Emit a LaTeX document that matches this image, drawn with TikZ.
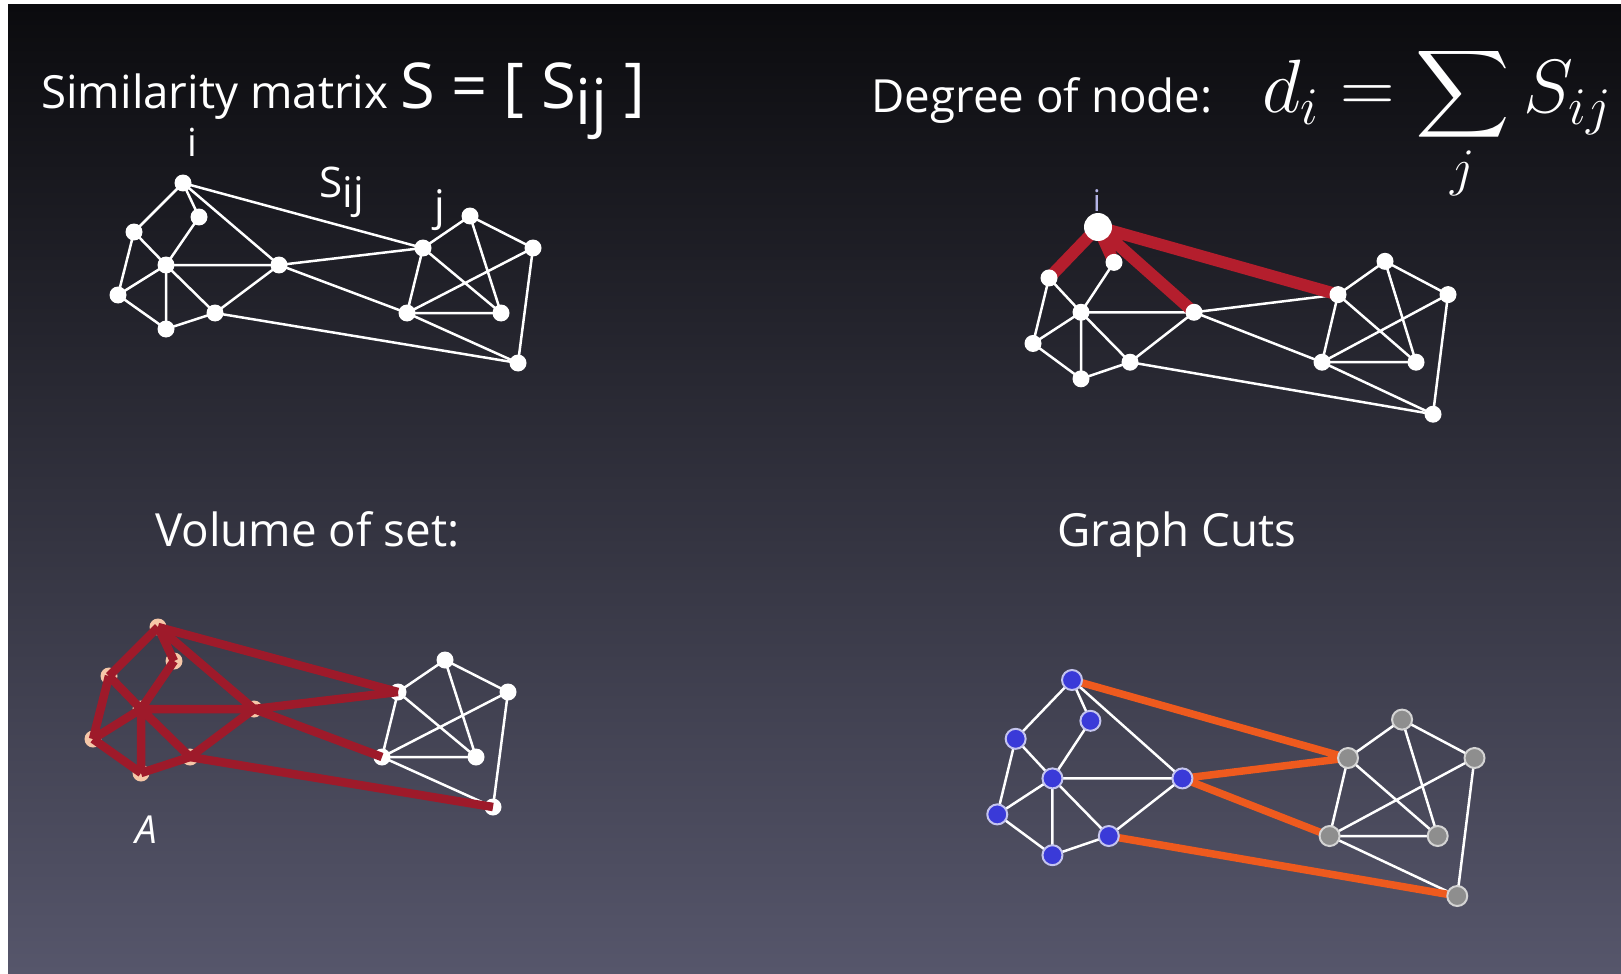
\RequirePackage{fix-cm}
\documentclass[tikz,border=0pt]{standalone}
\usepackage{exscale}
\usepackage{graphicx}
\usepackage[no-math]{fontspec}
\setmainfont{Open Sans}
\usepackage{tikz}

\pgfdeclarelayer{background}
\pgfdeclarelayer{edges}
\pgfdeclarelayer{front}
\pgfsetlayers{background,edges,main,front}

\definecolor{bgtop}{HTML}{0B0B0E}
\definecolor{bgmid}{HTML}{2E2E39}
\definecolor{bgbot}{HTML}{56566B}
\definecolor{degred}{HTML}{B41E2D}
\definecolor{volred}{HTML}{9E1A2A}
\definecolor{peach}{HTML}{F6C7A8}
\definecolor{cutorange}{HTML}{EE5A1E}
\definecolor{setblue}{HTML}{3A3AD8}
\definecolor{bluerim}{HTML}{C4C4EE}
\definecolor{setgray}{HTML}{8E8E8E}
\definecolor{grayrim}{HTML}{D4D4D4}
\definecolor{lavender}{HTML}{B4B4E6}

\tikzset{
  dot/.style={circle, fill=white, inner sep=0pt, minimum size=0.34cm},
  bigdot/.style={dot, minimum size=0.56cm},
  volumedot/.style={dot, fill=peach},
  bluedot/.style={dot, fill=setblue, draw=bluerim, line width=0.04cm, minimum size=0.4cm},
  graydot/.style={dot, fill=setgray, draw=grayrim, line width=0.04cm, minimum size=0.4cm},
  link/.style={white, line width=0.05cm},
  degreelink/.style={degred, line width=0.24cm},
  volumelink/.style={volred, line width=0.17cm},
  cutlink/.style={cutorange, line width=0.15cm},
  heading/.style={text=white, inner sep=0pt, font=\fontsize{26}{31}\selectfont},
  tag/.style={text=white, inner sep=0pt, font=\fontsize{24}{28}\selectfont}
}

\newcommand{\bigsum}{\mathop{\vcenter{\hbox{\scalebox{1.5}[1.4]{$\displaystyle\sum$}}}}\limits}

% one graph: prefix, style of i, left cluster, right cluster
\newcommand{\placegraph}[4]{%
  \node[#2] (#1i) at (0,0) {};
  \node[#3] (#1a) at (16,34) {};
  \node[#3] (#1b) at (-49,49) {};
  \node[#3] (#1c) at (-17,82) {};
  \node[#3] (#1m) at (96,82) {};
  \node[#3] (#1l) at (-65,112) {};
  \node[#3] (#1lb) at (-17,146) {};
  \node[#3] (#1mb) at (32,130) {};
  \node[#4] (#1j) at (240,65) {};
  \node[#4] (#1jt) at (287,33) {};
  \node[#4] (#1jr) at (350,65) {};
  \node[#4] (#1jb) at (224,130) {};
  \node[#4] (#1jbr) at (318,130) {};
  \node[#4] (#1jbot) at (335,180) {};
}
\newcommand{\leftlinks}[2]{%
  \draw[#2] (#1i.center) -- (#1b.center) (#1i.center) -- (#1a.center) (#1i.center) -- (#1m.center)
    (#1a.center) -- (#1c.center) (#1b.center) -- (#1c.center) (#1b.center) -- (#1l.center)
    (#1c.center) -- (#1l.center) (#1c.center) -- (#1m.center) (#1c.center) -- (#1lb.center)
    (#1c.center) -- (#1mb.center) (#1l.center) -- (#1lb.center) (#1lb.center) -- (#1mb.center)
    (#1mb.center) -- (#1m.center);
}
\newcommand{\crosslinks}[2]{%
  \draw[#2] (#1i.center) -- (#1j.center) (#1m.center) -- (#1j.center)
    (#1m.center) -- (#1jb.center) (#1mb.center) -- (#1jbot.center);
}
\newcommand{\rightlinks}[2]{%
  \draw[#2] (#1j.center) -- (#1jt.center) (#1j.center) -- (#1jb.center) (#1j.center) -- (#1jbr.center)
    (#1jt.center) -- (#1jr.center) (#1jt.center) -- (#1jbr.center) (#1jb.center) -- (#1jr.center)
    (#1jb.center) -- (#1jbr.center) (#1jb.center) -- (#1jbot.center) (#1jr.center) -- (#1jbot.center);
}

\begin{document}
\begin{tikzpicture}[x=0.02cm, y=-0.02cm]

        \useasboundingbox (0,0) rectangle (1621,973);
        \begin{pgfonlayer}{background}
            \fill[white] (0,0) rectangle (1621,973);
            \shade[top color=bgtop, middle color=bgmid, bottom color=bgbot] (8,5) rectangle (1621,973);
        \end{pgfonlayer}

        \node[heading, anchor=base west] (simtitle) at (41,109)
            {Similarity matrix \fontsize{36}{42}\selectfont S = [ S\raisebox{-0.45ex}{ij} ]};
        \node[heading, anchor=base west] (degtitle) at (871,113) {Degree of node:};
        \node[heading, anchor=base west, font=\fontsize{43}{50}\selectfont] (degformula) at (1262,113)
            {$d_i = \bigsum_j S_{ij}$};
        \node[heading, anchor=base west] (voltitle) at (155,546) {Volume of set:};
        \node[heading, anchor=base west] (cuttitle) at (1057,546) {Graph Cuts};

        % similarity
        \begin{scope}[shift={(183,183)}]
            \placegraph{g1}{dot}{dot}{dot}
        \end{scope}
        \begin{pgfonlayer}{edges}
            \leftlinks{g1}{link}
            \crosslinks{g1}{link}
            \rightlinks{g1}{link}
        \end{pgfonlayer}
        \node[tag, anchor=base, font=\fontsize{22}{26}\selectfont] (ilabel) at (192,157) {i};
        \node[tag, anchor=base west] (slabel) at (319,197) {S\raisebox{-0.45ex}{ij}};
        \node[tag, anchor=base] (jlabel) at (440,220) {j};

        % degree
        \begin{scope}[shift={(1098,227)}, yscale=1.04]
            \placegraph{g2}{bigdot}{dot}{dot}
        \end{scope}
        \begin{pgfonlayer}{edges}
            \leftlinks{g2}{link}
            \crosslinks{g2}{link}
            \rightlinks{g2}{link}
            \draw[degreelink] (g2i.center) -- (g2b.center) (g2i.center) -- (g2a.center)
                (g2i.center) -- (g2m.center) (g2i.center) -- (g2j.center);
        \end{pgfonlayer}
        \node[tag, anchor=base, text=lavender, font=\fontsize{17}{20}\selectfont] (ilabeltwo) at (1097,212) {i};

        % volume
        \begin{scope}[shift={(158,627)}]
            \placegraph{g3}{volumedot}{volumedot}{dot}
        \end{scope}
        \begin{pgfonlayer}{edges}
            \rightlinks{g3}{link}
        \end{pgfonlayer}
        \begin{pgfonlayer}{front}
            \leftlinks{g3}{volumelink}
            \crosslinks{g3}{volumelink}
        \end{pgfonlayer}
        \node[tag, anchor=base, font=\itshape\fontsize{22}{26}\selectfont] (setlabel) at (146,843) {A};

        % cuts
        \begin{scope}[shift={(1072,680)}, xscale=1.15, yscale=1.2]
            \placegraph{g4}{bluedot}{bluedot}{graydot}
        \end{scope}
        \begin{pgfonlayer}{edges}
            \leftlinks{g4}{link}
            \rightlinks{g4}{link}
            \crosslinks{g4}{cutlink}
        \end{pgfonlayer}

\end{tikzpicture}
\end{document}
